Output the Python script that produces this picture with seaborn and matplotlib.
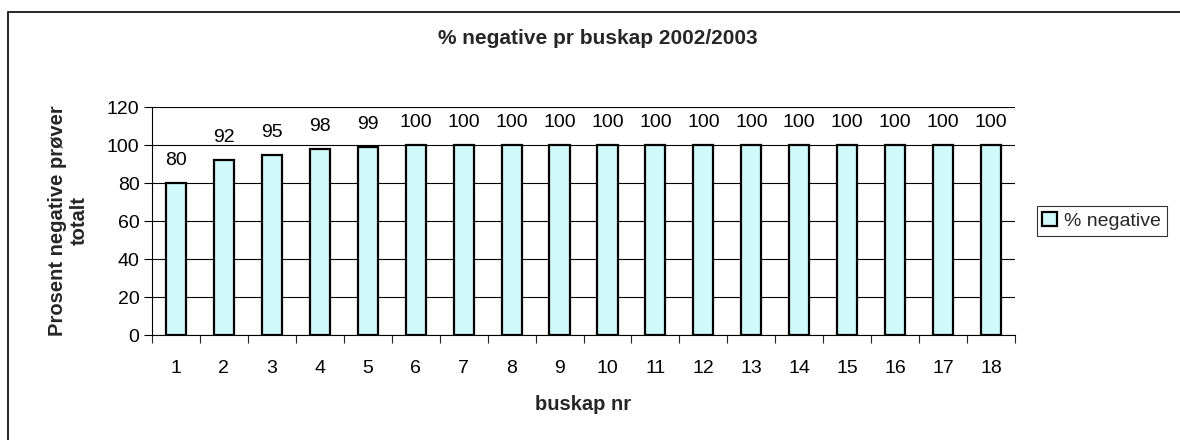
import matplotlib
matplotlib.use("Agg")
import matplotlib.pyplot as plt
import seaborn as sns
import pandas as pd
from matplotlib.patches import Rectangle

buskap = [str(i) for i in range(1, 19)]
negative = [80, 92, 95, 98, 99, 100, 100, 100, 100, 100, 100, 100, 100, 100, 100, 100, 100, 100]
series_name = "% negative"

sns.set_theme(style="white")
plt.rcParams['font.family'] = ['Liberation Sans', 'DejaVu Sans']

df = pd.DataFrame({"buskap": buskap, "val": negative, "series": series_name})

fig = plt.figure(figsize=(11.8, 4.4), dpi=100)
ax = fig.add_axes([0.1288, 0.2386, 0.7314, 0.5182])
sns.barplot(data=df, x="buskap", y="val", hue="series", palette=["#CCFFFF"],
            edgecolor="black", linewidth=1.6, width=0.42, ax=ax, legend=True)

ax.set_ylim(0, 120)
ax.set_yticks(range(0, 121, 20))
ax.set_xlim(-0.5, len(buskap) - 0.5)
ax.yaxis.grid(True, color="black", linewidth=0.8)
ax.set_axisbelow(True)
for s in ["top", "right"]:
    ax.spines[s].set_visible(False)
for s in ["left", "bottom"]:
    ax.spines[s].set_color("black")
    ax.spines[s].set_linewidth(0.8)

ax.tick_params(axis="both", which="major", labelsize=14, colors="black")
ax.tick_params(axis="y", length=6, width=0.8, direction="out", left=True, pad=3)
ax.set_xticks(range(len(buskap)))
ax.set_xticks([i - 0.5 for i in range(len(buskap) + 1)], minor=True)
ax.tick_params(axis="x", which="minor", length=6, width=0.8, direction="out", bottom=True)
ax.tick_params(axis="x", which="major", length=0, pad=18)

for c in ax.containers:
    ax.bar_label(c, labels=[str(v) for v in negative], fontsize=14, padding=10, color="black")

ax.set_xlabel("buskap nr", fontsize=14.5, fontweight="bold", labelpad=13)
ax.set_ylabel("Prosent negative prøver\ntotalt", fontsize=14.5, fontweight="bold", labelpad=13)
fig.text(0.507, 0.913, "% negative pr buskap 2002/2003", ha="center", va="center",
         fontsize=15, fontweight="bold")

leg = ax.legend(loc="center left", bbox_to_anchor=(1.025, 0.5), frameon=True, fontsize=14,
                fancybox=False, handlelength=0.75, handleheight=0.75, handletextpad=0.35,
                borderpad=0.3, borderaxespad=0)
leg.get_frame().set_edgecolor("black")
leg.get_frame().set_linewidth(0.8)

fig.patches.append(Rectangle((8 / 1180, -10 / 440), 1200 / 1180, 438 / 440, transform=fig.transFigure,
                             fill=False, edgecolor="black", linewidth=1.2))

fig.savefig("out.png", dpi=100)
